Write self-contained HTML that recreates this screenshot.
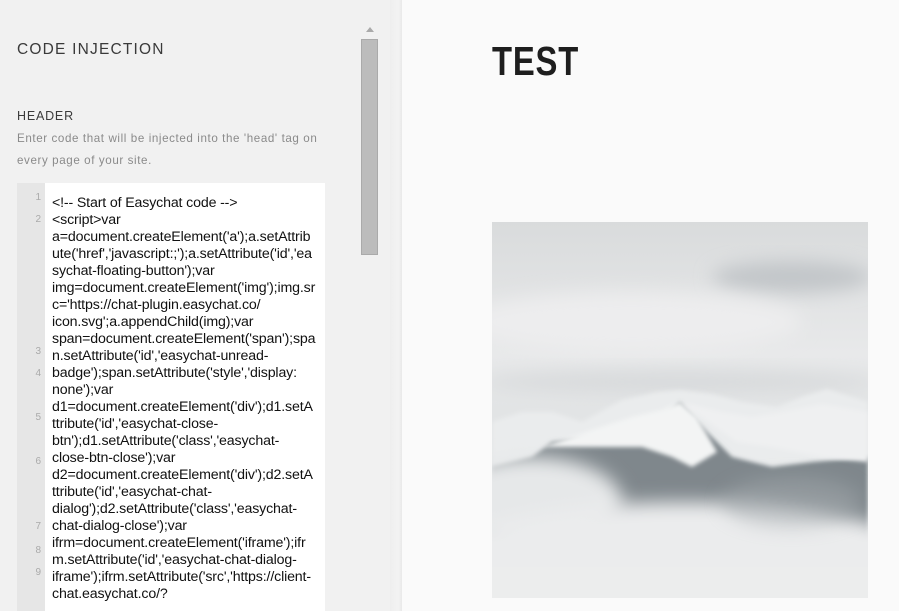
<!DOCTYPE html>
<html><head><meta charset="utf-8"><style>
html,body{margin:0;padding:0;width:899px;height:611px;overflow:hidden;background:#fafafa;font-family:"Liberation Sans",sans-serif}
#left{position:absolute;left:0;top:0;width:390px;height:611px;background:#f1f1f1}
#shadow{position:absolute;left:390px;top:0;width:12px;height:611px;background:linear-gradient(to right,#eeeeee,#f3f3f3 70%,#e8e8e8)}
.h1{position:absolute;left:17px;top:41px;font-size:15.5px;letter-spacing:1.2px;color:#3a3a3a}
.h2{position:absolute;left:17px;top:109px;font-size:12.5px;letter-spacing:0.8px;color:#3a3a3a}
.desc{position:absolute;left:17px;top:128px;width:312px;font-size:11.6px;line-height:22px;color:#8a8a8a;letter-spacing:0.6px}
#code{position:absolute;left:17px;top:183px;width:308px;height:428px;background:#fff}
#gut{position:absolute;left:17px;top:183px;width:28px;height:428px;background:#e6e6e6}
.ln{position:absolute;left:17px;width:24px;text-align:right;font-size:10px;color:#aaa}
#lines{position:absolute;left:52px;top:195px;font-size:14.2px;line-height:17px;color:#111;white-space:pre;letter-spacing:-0.15px}
#track{position:absolute;left:361px;top:39px;width:17px;height:216px;background:#bcbcbc;border:1px solid #aaa;box-sizing:border-box}
#arrow{position:absolute;left:366px;top:27px;width:0;height:0;border-left:4px solid transparent;border-right:4px solid transparent;border-bottom:5px solid #aaa}
#test{position:absolute;left:492px;top:38px;font-size:41px;font-weight:bold;color:#1e1e1e;letter-spacing:1px;transform:scaleX(0.8);transform-origin:left top}
#img{position:absolute;left:492px;top:222px;width:376px;height:376px;overflow:hidden}
</style></head><body>
<div id="left"></div><div id="shadow"></div>
<div class="h1">CODE INJECTION</div>
<div class="h2">HEADER</div>
<div class="desc">Enter code that will be injected into the 'head' tag on every page of your site.</div>
<div id="arrow"></div><div id="track"></div>
<div id="code"></div><div id="gut"></div>
<div class="ln" style="top:192px">1</div>
<div class="ln" style="top:214px">2</div>
<div class="ln" style="top:346px">3</div>
<div class="ln" style="top:368px">4</div>
<div class="ln" style="top:412px">5</div>
<div class="ln" style="top:456px">6</div>
<div class="ln" style="top:521px">7</div>
<div class="ln" style="top:545px">8</div>
<div class="ln" style="top:567px">9</div>
<div id="lines">&lt;!-- Start of Easychat code --&gt;
&lt;script&gt;var
a=document.createElement('a');a.setAttrib
ute('href','javascript:;');a.setAttribute('id','ea
sychat-floating-button');var
img=document.createElement('img');img.sr
c='https://chat-plugin.easychat.co/
icon.svg';a.appendChild(img);var
span=document.createElement('span');spa
n.setAttribute('id','easychat-unread-
badge');span.setAttribute('style','display:
none');var
d1=document.createElement('div');d1.setA
ttribute('id','easychat-close-
btn');d1.setAttribute('class','easychat-
close-btn-close');var
d2=document.createElement('div');d2.setA
ttribute('id','easychat-chat-
dialog');d2.setAttribute('class','easychat-
chat-dialog-close');var
ifrm=document.createElement('iframe');ifr
m.setAttribute('id','easychat-chat-dialog-
iframe');ifrm.setAttribute('src','https://client-
chat.easychat.co/?</div>
<svg id="img" viewBox="0 0 376 376" xmlns="http://www.w3.org/2000/svg">
<defs>
<linearGradient id="sky" x1="0" y1="0" x2="0" y2="1">
<stop offset="0" stop-color="#d9dbdc"/><stop offset="0.35" stop-color="#e8e9ea"/><stop offset="0.5" stop-color="#e2e4e5"/><stop offset="1" stop-color="#e6e7e8"/></linearGradient>
<filter id="b2" x="-20%" y="-20%" width="140%" height="140%"><feGaussianBlur stdDeviation="2"/></filter>
<filter id="b8" x="-30%" y="-50%" width="160%" height="200%"><feGaussianBlur stdDeviation="9"/></filter>
</defs>
<rect width="376" height="376" fill="url(#sky)"/>
<ellipse cx="300" cy="55" rx="80" ry="16" fill="#c2c6c9" filter="url(#b8)"/>
<ellipse cx="140" cy="100" rx="170" ry="30" fill="#ededee" filter="url(#b8)"/>
<ellipse cx="188" cy="160" rx="200" ry="12" fill="#d8dadc" filter="url(#b8)"/>
<path d="M0 200 L30 190 L60 190 L90 200 L130 178 L165 170 L188 168 L220 172 L250 180 L285 185 L310 175 L335 167 L376 180 L376 376 L0 376Z" fill="#eaeced" filter="url(#b2)"/>
<path d="M0 245 L40 235 L60 220 L110 215 L150 205 L170 200 L188 180 L215 210 L240 235 L280 245 L320 240 L376 235 L376 320 L0 320Z" fill="#7f878c" filter="url(#b2)"/>
<path d="M50 225 L100 208 L140 195 L170 188 L188 180 L205 195 L225 230 L200 245 L180 235 L150 225 L100 225Z" fill="#f3f4f4" filter="url(#b2)"/>
<path d="M188 180 L230 190 L260 195 L290 190 L330 182 L376 190 L376 240 L330 235 L280 225 L245 220Z" fill="#eff0f1" filter="url(#b2)"/>
<ellipse cx="40" cy="280" rx="90" ry="45" fill="#e6e8e9" filter="url(#b8)"/>
<ellipse cx="190" cy="330" rx="230" ry="50" fill="#ebeced" filter="url(#b8)"/>
<ellipse cx="300" cy="280" rx="70" ry="25" fill="#a4aaae" opacity="0.5" filter="url(#b8)"/>
<rect y="345" width="376" height="31" fill="#eceded"/>
</svg>
<div id="test">TEST</div>
</body></html>
